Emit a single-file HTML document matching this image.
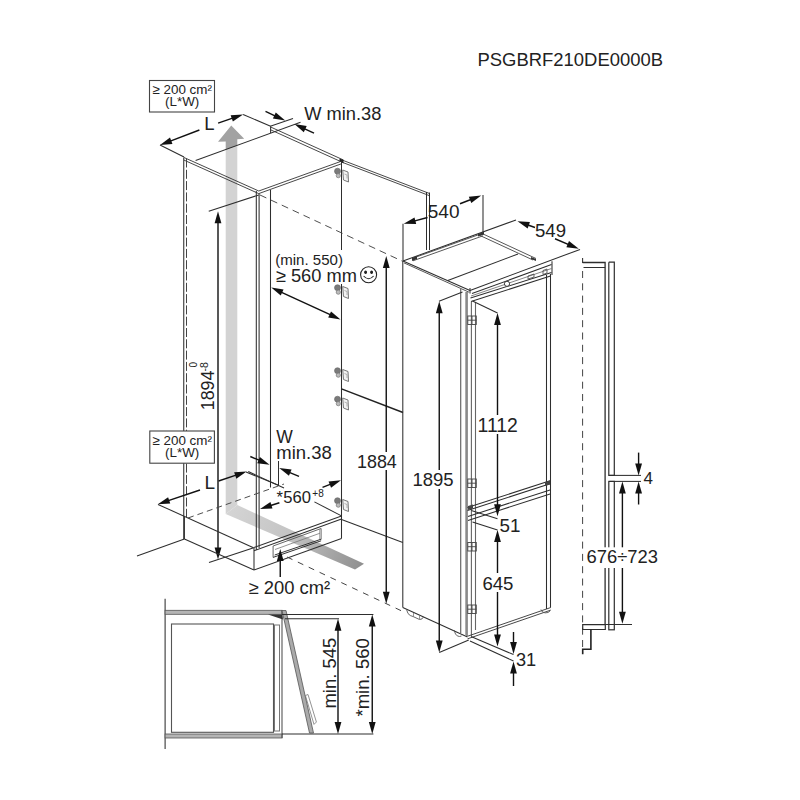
<!DOCTYPE html>
<html><head><meta charset="utf-8"><style>
html,body{margin:0;padding:0;background:#fff;}
svg{display:block;font-family:"Liberation Sans",sans-serif;}
</style></head><body>
<svg width="800" height="800" viewBox="0 0 800 800">
<rect width="800" height="800" fill="#fff"/>
<defs>
<linearGradient id="gband" gradientUnits="userSpaceOnUse" x1="230" y1="510" x2="362" y2="566">
<stop offset="0" stop-color="#d4d4d4"/><stop offset="0.45" stop-color="#c4c4c4"/><stop offset="1" stop-color="#8f8f8f"/></linearGradient>
<clipPath id="above"><path d="M0,0 H800 V100 L271,133 L196,161 L0,240 Z"/></clipPath>
<clipPath id="below"><path d="M0,240 L196,161 L271,133 L800,100 V800 H0 Z"/></clipPath>
</defs>
<path d="M225.7,514 L225.7,141.5 L218,141.8 L231.25,125.5 L244.2,138.8 L237.3,139.2 L237.3,505 Z" stroke="none" stroke-width="0" fill="#d3d3d3" clip-path="url(#below)"/>
<path d="M225.7,514 L225.7,141.5 L218,141.8 L231.25,125.5 L244.2,138.8 L237.3,139.2 L237.3,505 Z" stroke="none" stroke-width="0" fill="#a2a2a2" clip-path="url(#above)"/>
<path d="M225.7,514 L237.3,505 L364,563.75 L355,569.4 Z" stroke="none" stroke-width="0" fill="url(#gband)" />
<text x="477.5" y="66" font-size="18.45" text-anchor="start" fill="#222" >PSGBRF210DE0000B</text>
<rect x="149.5" y="80.5" width="65" height="31.5" fill="#fff" stroke="#444" stroke-width="1.1"/>
<text x="182.2" y="94" font-size="13.4" text-anchor="middle" fill="#222" >≥ 200 cm²</text>
<text x="182.2" y="106" font-size="13.4" text-anchor="middle" fill="#222" >(L*W)</text>
<line x1="243.1" y1="114.4" x2="270.6" y2="126.25" stroke="#2e2e2e" stroke-width="1.05" />
<line x1="160" y1="145" x2="184" y2="157" stroke="#2e2e2e" stroke-width="1.05" />
<line x1="195.6" y1="160.6" x2="300.5" y2="122.3" stroke="#2e2e2e" stroke-width="1.05" />
<line x1="270.6" y1="126.25" x2="270.6" y2="133.1" stroke="#2e2e2e" stroke-width="1.05" />
<text x="204.3" y="130.2" font-size="18.5" text-anchor="start" fill="#222" >L</text>
<line x1="199.4" y1="130" x2="168.97180351521945" y2="141.58433876324133" stroke="#111" stroke-width="1.4" />
<path d="M160.00,145.00 L170.01,137.55 L172.42,143.91 Z" fill="#111"/>
<line x1="218.1" y1="123.1" x2="234.033320125074" y2="117.55520459647424" stroke="#111" stroke-width="1.4" />
<path d="M243.10,114.40 L232.88,121.56 L230.65,115.13 Z" fill="#111"/>
<line x1="270.3" y1="126.25" x2="293" y2="118.4" stroke="#2e2e2e" stroke-width="1.05" />
<line x1="265.5" y1="111.4" x2="276.50177019972153" y2="116.5378825298192" stroke="#111" stroke-width="1.4" />
<path d="M285.20,120.60 L272.89,118.60 L275.77,112.44 Z" fill="#111"/>
<line x1="314" y1="133.2" x2="303.09027466310107" y2="128.07910851533316" stroke="#111" stroke-width="1.4" />
<path d="M294.40,124.00 L306.71,126.02 L303.82,132.18 Z" fill="#111"/>
<text x="304.2" y="120.1" font-size="18.3" text-anchor="start" fill="#222" >W min.38</text>
<line x1="184" y1="157.5" x2="258.75" y2="191" stroke="#333" stroke-width="0.9" />
<line x1="184" y1="160.1" x2="258.75" y2="193.6" stroke="#333" stroke-width="0.9" />
<line x1="270.6" y1="127" x2="343.5" y2="160" stroke="#333" stroke-width="0.9" />
<line x1="270.6" y1="129.8" x2="343.5" y2="162.8" stroke="#333" stroke-width="0.9" />
<line x1="341.5" y1="159.8" x2="429" y2="193.3" stroke="#333" stroke-width="0.9" />
<line x1="341.5" y1="162.0" x2="429" y2="195.5" stroke="#333" stroke-width="0.9" />
<path d="M339.5,158.5 l4,1.5 l0,3 l-4,-1.5 z" fill="#222"/>
<line x1="426.5" y1="192" x2="426.5" y2="250" stroke="#2e2e2e" stroke-width="1.05" />
<line x1="429.5" y1="192.5" x2="429.5" y2="250" stroke="#2e2e2e" stroke-width="1.05" />
<line x1="258.75" y1="191" x2="341.25" y2="161.25" stroke="#333" stroke-width="0.9" />
<line x1="258.75" y1="193.6" x2="341.25" y2="163.85" stroke="#333" stroke-width="0.9" />
<line x1="183.75" y1="157.5" x2="183.75" y2="539" stroke="#2e2e2e" stroke-width="1.05" />
<line x1="186.5" y1="158.5" x2="186.5" y2="517" stroke="#444" stroke-width="1.0" stroke-dasharray="9,2.3"/>
<line x1="256.3" y1="191" x2="256.3" y2="550" stroke="#2e2e2e" stroke-width="1.05" />
<line x1="259.1" y1="193.5" x2="259.1" y2="548" stroke="#2e2e2e" stroke-width="1.05" />
<line x1="270.5" y1="190" x2="270.5" y2="487.4" stroke="#2e2e2e" stroke-width="1.05" />
<line x1="341.5" y1="161.25" x2="341.5" y2="250" stroke="#2e2e2e" stroke-width="1.05" />
<line x1="341.5" y1="268" x2="341.5" y2="538.6" stroke="#2e2e2e" stroke-width="1.05" />
<line x1="260" y1="195" x2="402.5" y2="261.25" stroke="#444" stroke-width="0.95" stroke-dasharray="7,5"/>
<line x1="341.5" y1="388.9" x2="403" y2="412.5" stroke="#222" stroke-width="1.5" />
<g><circle cx="337.5" cy="171.2" r="3" fill="#7a7a7a" stroke="#666" stroke-width="0.6"/><circle cx="338.3" cy="175.7" r="2.1" fill="#bbb" stroke="#777" stroke-width="0.7"/><path d="M342.7,170.0 L348.0,172.0 L348.5,182.0 L343.5,180.0 Z" fill="#f2f2f2" stroke="#777" stroke-width="1"/><path d="M344.5,174.0 L347.0,175.0 L347.0,178.5" fill="none" stroke="#999" stroke-width="0.7"/></g>
<g><circle cx="337.5" cy="287.7" r="3" fill="#7a7a7a" stroke="#666" stroke-width="0.6"/><circle cx="338.3" cy="292.2" r="2.1" fill="#bbb" stroke="#777" stroke-width="0.7"/><path d="M342.7,286.5 L348.0,288.5 L348.5,298.5 L343.5,296.5 Z" fill="#f2f2f2" stroke="#777" stroke-width="1"/><path d="M344.5,290.5 L347.0,291.5 L347.0,295" fill="none" stroke="#999" stroke-width="0.7"/></g>
<g><circle cx="337.5" cy="370.7" r="3" fill="#7a7a7a" stroke="#666" stroke-width="0.6"/><circle cx="338.3" cy="375.2" r="2.1" fill="#bbb" stroke="#777" stroke-width="0.7"/><path d="M342.7,369.5 L348.0,371.5 L348.5,381.5 L343.5,379.5 Z" fill="#f2f2f2" stroke="#777" stroke-width="1"/><path d="M344.5,373.5 L347.0,374.5 L347.0,378" fill="none" stroke="#999" stroke-width="0.7"/></g>
<g><circle cx="337.5" cy="399.2" r="3" fill="#7a7a7a" stroke="#666" stroke-width="0.6"/><circle cx="338.3" cy="403.7" r="2.1" fill="#bbb" stroke="#777" stroke-width="0.7"/><path d="M342.7,398.0 L348.0,400.0 L348.5,410.0 L343.5,408.0 Z" fill="#f2f2f2" stroke="#777" stroke-width="1"/><path d="M344.5,402.0 L347.0,403.0 L347.0,406.5" fill="none" stroke="#999" stroke-width="0.7"/></g>
<g><circle cx="337.5" cy="500.7" r="3" fill="#7a7a7a" stroke="#666" stroke-width="0.6"/><circle cx="338.3" cy="505.2" r="2.1" fill="#bbb" stroke="#777" stroke-width="0.7"/><path d="M342.7,499.5 L348.0,501.5 L348.5,511.5 L343.5,509.5 Z" fill="#f2f2f2" stroke="#777" stroke-width="1"/><path d="M344.5,503.5 L347.0,504.5 L347.0,508" fill="none" stroke="#999" stroke-width="0.7"/></g>
<line x1="208.75" y1="211.25" x2="258.75" y2="195" stroke="#2e2e2e" stroke-width="1.05" />
<line x1="209" y1="562.6" x2="253" y2="548" stroke="#2e2e2e" stroke-width="1.05" />
<line x1="218.0" y1="220.85" x2="218.0" y2="549.9" stroke="#111" stroke-width="1.4" />
<path d="M218.00,559.50 L214.60,547.50 L221.40,547.50 Z" fill="#111"/>
<path d="M218.00,211.25 L221.40,223.25 L214.60,223.25 Z" fill="#111"/>
<text x="0" y="0" font-size="17.9" text-anchor="start" fill="#222" transform="translate(213.8,410.3) rotate(-90)">1894</text>
<text x="0" y="0" font-size="10.5" text-anchor="start" fill="#222" transform="translate(208.2,371.5) rotate(-90)">-8</text>
<text x="0" y="0" font-size="10" text-anchor="start" fill="#222" transform="translate(197,367.5) rotate(-90)">0</text>
<line x1="279.96456758576136" y1="291.52694819847454" x2="331.78543241423864" y2="315.47305180152546" stroke="#111" stroke-width="1.4" />
<path d="M340.50,319.50 L328.18,317.55 L331.03,311.38 Z" fill="#111"/>
<path d="M271.25,287.50 L283.57,289.45 L280.72,295.62 Z" fill="#111"/>
<rect x="274" y="254" width="69" height="30" fill="#fff"/>
<text x="275.2" y="265.3" font-size="15.05" text-anchor="start" fill="#222" >(min. 550)</text>
<text x="275.8" y="281.6" font-size="18.3" text-anchor="start" fill="#222" >≥ 560 mm</text>
<g stroke="#222" stroke-width="1.1" fill="none"><circle cx="368.6" cy="274.8" r="8"/><ellipse cx="365.6" cy="272.3" rx="0.9" ry="1.2" fill="#222"/><ellipse cx="371.6" cy="272.3" rx="0.9" ry="1.2" fill="#222"/><path d="M363.6,276 Q368.6,281.5 373.6,276"/></g>
<rect x="149.8" y="431" width="64.6" height="32.2" fill="#fff" stroke="#444" stroke-width="1.1"/>
<text x="182.2" y="444.6" font-size="13.4" text-anchor="middle" fill="#222" >≥ 200 cm²</text>
<text x="182.2" y="456.6" font-size="13.4" text-anchor="middle" fill="#222" >(L*W)</text>
<line x1="246" y1="472" x2="278.5" y2="485.3" stroke="#2e2e2e" stroke-width="1.05" />
<line x1="158" y1="504.4" x2="254" y2="548" stroke="#2e2e2e" stroke-width="1.05" />
<line x1="188" y1="518" x2="284" y2="484" stroke="#444" stroke-width="0.95" stroke-dasharray="6,4"/>
<text x="204.5" y="489.4" font-size="19" text-anchor="start" fill="#222" >L</text>
<line x1="200" y1="490" x2="166.89869855101392" y2="501.13835262027493" stroke="#111" stroke-width="1.4" />
<path d="M157.80,504.20 L168.09,497.15 L170.26,503.60 Z" fill="#111"/>
<line x1="218.6" y1="481" x2="237.49916181726044" y2="474.6552813899197" stroke="#111" stroke-width="1.4" />
<path d="M246.60,471.60 L236.31,478.64 L234.14,472.20 Z" fill="#111"/>
<text x="276.3" y="442.7" font-size="17.5" text-anchor="start" fill="#222" >W</text>
<text x="276.3" y="458.5" font-size="18.5" text-anchor="start" fill="#222" >min.38</text>
<line x1="278.5" y1="461" x2="278.5" y2="485.3" stroke="#2e2e2e" stroke-width="1.05" />
<line x1="248.25" y1="471.6" x2="284" y2="488" stroke="#2e2e2e" stroke-width="1.05" />
<line x1="250.3" y1="456.5" x2="260.7644112379423" y2="460.9460192824418" stroke="#111" stroke-width="1.4" />
<path d="M269.60,464.70 L257.23,463.14 L259.89,456.88 Z" fill="#111"/>
<line x1="299" y1="476.4" x2="288.05358040152566" y2="471.8113493602355" stroke="#111" stroke-width="1.4" />
<path d="M279.20,468.10 L291.58,469.60 L288.95,475.87 Z" fill="#111"/>
<text x="276.5" y="502.75" font-size="16.6" text-anchor="start" fill="#222" >*</text>
<text x="283.3" y="502.75" font-size="16.6" text-anchor="start" fill="#222" >560</text>
<text x="312.3" y="497" font-size="10" text-anchor="start" fill="#222" >+8</text>
<line x1="279.4" y1="502.75" x2="269.15117984303674" y2="505.9989816476971" stroke="#111" stroke-width="1.4" />
<path d="M260.00,508.90 L270.41,502.03 L272.47,508.51 Z" fill="#111"/>
<line x1="322.5" y1="487.4" x2="332.0536629911842" y2="483.68181764667423" stroke="#111" stroke-width="1.4" />
<path d="M341.00,480.20 L331.05,487.72 L328.58,481.38 Z" fill="#111"/>
<line x1="314.4" y1="501.9" x2="341.5" y2="515.9" stroke="#2e2e2e" stroke-width="1.05" />
<line x1="184.4" y1="517" x2="184.4" y2="539" stroke="#2e2e2e" stroke-width="1.05" />
<line x1="184.4" y1="539" x2="137" y2="556" stroke="#2e2e2e" stroke-width="1.05" />
<line x1="184.4" y1="539" x2="254" y2="570" stroke="#2e2e2e" stroke-width="1.05" />
<line x1="254" y1="548" x2="254" y2="570" stroke="#2e2e2e" stroke-width="1.05" />
<line x1="254" y1="547.5" x2="341.5" y2="515.9" stroke="#2e2e2e" stroke-width="1.05" />
<line x1="254" y1="550.7" x2="341.5" y2="519.1" stroke="#2e2e2e" stroke-width="1.05" />
<line x1="254" y1="570" x2="341.5" y2="538.6" stroke="#2e2e2e" stroke-width="1.05" />
<line x1="341.5" y1="519.4" x2="402.8" y2="542.5" stroke="#2e2e2e" stroke-width="1.05" />
<line x1="273.1" y1="546" x2="321.1" y2="528.5" stroke="#555" stroke-width="0.9" />
<line x1="273.1" y1="546" x2="273.1" y2="557.4" stroke="#555" stroke-width="0.9" />
<line x1="321.1" y1="528.5" x2="321.1" y2="539.5" stroke="#555" stroke-width="0.9" />
<line x1="319.6" y1="529.3" x2="319.6" y2="539.5" stroke="#888" stroke-width="0.7" />
<line x1="274.7" y1="555" x2="321.1" y2="539.2" stroke="#333" stroke-width="1.0" />
<line x1="273.1" y1="557.4" x2="321.1" y2="540.8" stroke="#333" stroke-width="1.0" />
<line x1="275" y1="549.5" x2="320" y2="533.2" stroke="#777" stroke-width="0.8" />
<line x1="287" y1="557" x2="405" y2="612.5" stroke="#444" stroke-width="1.0" stroke-dasharray="6,6"/>
<line x1="280.25" y1="577" x2="280.25" y2="558.7" stroke="#111" stroke-width="1.4" />
<path d="M280.25,549.10 L283.65,561.10 L276.85,561.10 Z" fill="#111"/>
<text x="248.5" y="593.75" font-size="18.4" text-anchor="start" fill="#222" >≥ 200 cm²</text>
<line x1="403" y1="261" x2="516" y2="220" stroke="#2e2e2e" stroke-width="1.05" />
<line x1="403" y1="261" x2="470" y2="290.5" stroke="#2e2e2e" stroke-width="1.05" />
<line x1="404" y1="262.9" x2="469" y2="292.2" stroke="#444" stroke-width="0.9" />
<line x1="470" y1="288" x2="470" y2="293.5" stroke="#2e2e2e" stroke-width="1.05" />
<line x1="470" y1="290.5" x2="580" y2="249.4" stroke="#2e2e2e" stroke-width="1.05" />
<line x1="472" y1="293.6" x2="551.5" y2="264.5" stroke="#2e2e2e" stroke-width="1.05" />
<line x1="447.8" y1="280.4" x2="518" y2="254" stroke="#2e2e2e" stroke-width="1.05" />
<line x1="412" y1="258.5" x2="482" y2="233.5" stroke="#444" stroke-width="0.9" />
<line x1="413" y1="260.8" x2="483" y2="235.8" stroke="#444" stroke-width="0.9" />
<line x1="482" y1="233.5" x2="536" y2="258.5" stroke="#444" stroke-width="0.9" />
<line x1="480" y1="235.5" x2="533" y2="260" stroke="#444" stroke-width="0.9" />
<path d="M412,258 l5,-2 l0,3 l-5,2 z M478,234 l6,-2 l0,2.5 l-6,2 z M531,257 l5,2 l0,2 l-5,-2 z" fill="#333"/>
<line x1="552" y1="261.2" x2="552" y2="275" stroke="#2e2e2e" stroke-width="1.05" />
<line x1="470.5" y1="298" x2="551.5" y2="272.5" stroke="#2e2e2e" stroke-width="1.05" />
<line x1="471" y1="301.5" x2="550.5" y2="276" stroke="#2e2e2e" stroke-width="1.05" />
<line x1="471" y1="296" x2="551.5" y2="268.5" stroke="#666" stroke-width="0.8" />
<circle cx="507" cy="283.8" r="2.6" fill="#fff" stroke="#333" stroke-width="1"/>
<path d="M528,276 l6,-2 l0,3 l-6,2 z M543,270.5 l4,-1.5 l0,4 l-4,1.5 z" fill="none" stroke="#444" stroke-width="0.8"/>
<line x1="403" y1="223.75" x2="403" y2="261" stroke="#2e2e2e" stroke-width="1.05" />
<line x1="483" y1="195" x2="483" y2="233.5" stroke="#2e2e2e" stroke-width="1.05" />
<line x1="427.5" y1="217.5" x2="413.0339155577214" y2="221.30686432691542" stroke="#111" stroke-width="1.4" />
<path d="M403.75,223.75 L414.49,217.41 L416.22,223.98 Z" fill="#111"/>
<line x1="460" y1="203.75" x2="472.3007807391438" y2="198.9744027718618" stroke="#111" stroke-width="1.4" />
<path d="M481.25,195.50 L471.29,203.01 L468.83,196.67 Z" fill="#111"/>
<text x="427.8" y="217.8" font-size="19" text-anchor="start" fill="#222" >540</text>
<line x1="535" y1="227.5" x2="526.5407223513105" y2="224.4788294111823" stroke="#111" stroke-width="1.4" />
<path d="M517.50,221.25 L529.94,222.08 L527.66,228.49 Z" fill="#111"/>
<line x1="555" y1="238.75" x2="569.9023003986746" y2="245.02465279944192" stroke="#111" stroke-width="1.4" />
<path d="M578.75,248.75 L566.37,247.23 L569.01,240.96 Z" fill="#111"/>
<text x="535" y="236.8" font-size="18.6" text-anchor="start" fill="#222" >549</text>
<line x1="402.8" y1="261" x2="402.8" y2="607.5" stroke="#2e2e2e" stroke-width="1.05" />
<line x1="402.8" y1="607.5" x2="467.5" y2="637" stroke="#2e2e2e" stroke-width="1.05" />
<line x1="460.7" y1="289" x2="460.7" y2="633" stroke="#666" stroke-width="1.2" />
<line x1="466.6" y1="292" x2="466.6" y2="636" stroke="#8a8a8a" stroke-width="2.6" />
<line x1="471.4" y1="302" x2="471.4" y2="636" stroke="#666" stroke-width="1.1" />
<line x1="475.5" y1="302" x2="475.5" y2="630" stroke="#666" stroke-width="1.1" />
<line x1="546.5" y1="275" x2="546.5" y2="609" stroke="#2e2e2e" stroke-width="1.05" />
<line x1="550.5" y1="274" x2="550.5" y2="607.5" stroke="#2e2e2e" stroke-width="1.05" />
<line x1="467.5" y1="636.25" x2="550.8" y2="607.5" stroke="#333" stroke-width="0.9" />
<line x1="467.5" y1="638.85" x2="550.8" y2="610.1" stroke="#333" stroke-width="0.9" />
<path d="M406.5,609.5 L408,613.5 Q410,616 413,616.5 L419.5,619.5 Q422.5,619.5 423.5,617 L423.5,616.8" fill="none" stroke="#555" stroke-width="0.9"/>
<path d="M413.5,613 l0,3.5 M419.5,616 l0,3" stroke="#777" stroke-width="0.8"/>
<path d="M454,630 L455.5,634 Q457,636.5 459.5,636.5 L461.5,636" fill="none" stroke="#555" stroke-width="0.9"/>
<path d="M541,609.5 L542.5,612 Q545,613.5 548,612.5 L550,611" fill="none" stroke="#555" stroke-width="0.9"/>
<line x1="467.5" y1="507.5" x2="550.8" y2="480.6" stroke="#2e2e2e" stroke-width="1.05" />
<line x1="467.5" y1="510.5" x2="550.8" y2="483.6" stroke="#2e2e2e" stroke-width="1.05" />
<line x1="468" y1="516.5" x2="550.8" y2="489.7" stroke="#2e2e2e" stroke-width="1.05" />
<line x1="468" y1="520.5" x2="550.8" y2="493.7" stroke="#2e2e2e" stroke-width="1.05" />
<path d="M468,506 l5,-1.5 l0,4 l-5,1.5 z M545,482 l5,-1.5 l0,4 l-5,1.5 z" fill="#444"/>
<g fill="none" stroke="#444" stroke-width="0.9"><rect x="467.8" y="316" width="8.5" height="8.5"/><path d="M472.0,316 v8.5 M467.8,320.2 h8.5"/></g>
<g fill="none" stroke="#444" stroke-width="0.9"><rect x="467.8" y="479" width="8.5" height="8.5"/><path d="M472.0,479 v8.5 M467.8,483.2 h8.5"/></g>
<g fill="none" stroke="#444" stroke-width="0.9"><rect x="467.8" y="542.5" width="8.5" height="8.5"/><path d="M472.0,542.5 v8.5 M467.8,546.7 h8.5"/></g>
<g fill="none" stroke="#444" stroke-width="0.9"><rect x="467.8" y="605" width="8.5" height="8.5"/><path d="M472.0,605 v8.5 M467.8,609.2 h8.5"/></g>
<line x1="386.25" y1="265.6" x2="386.25" y2="594.15" stroke="#111" stroke-width="1.4" />
<path d="M386.25,603.75 L382.85,591.75 L389.65,591.75 Z" fill="#111"/>
<path d="M386.25,256.00 L389.65,268.00 L382.85,268.00 Z" fill="#111"/>
<rect x="356" y="452" width="42" height="18" fill="#fff"/>
<text x="357" y="467.8" font-size="17.9" text-anchor="start" fill="#222" >1884</text>
<line x1="439" y1="301.2" x2="462.5" y2="292" stroke="#2e2e2e" stroke-width="1.05" />
<line x1="439.25" y1="652.5" x2="468.75" y2="640" stroke="#2e2e2e" stroke-width="1.05" />
<line x1="439.25" y1="310.85" x2="439.25" y2="642.9" stroke="#111" stroke-width="1.4" />
<path d="M439.25,652.50 L435.85,640.50 L442.65,640.50 Z" fill="#111"/>
<path d="M439.25,301.25 L442.65,313.25 L435.85,313.25 Z" fill="#111"/>
<rect x="411" y="470" width="44" height="19" fill="#fff"/>
<text x="412.5" y="485.6" font-size="18.5" text-anchor="start" fill="#222" >1895</text>
<line x1="472.5" y1="301" x2="497.5" y2="313" stroke="#2e2e2e" stroke-width="1.05" />
<line x1="497.5" y1="322.6" x2="497.5" y2="506.65" stroke="#111" stroke-width="1.4" />
<path d="M497.50,516.25 L494.10,504.25 L500.90,504.25 Z" fill="#111"/>
<path d="M497.50,313.00 L500.90,325.00 L494.10,325.00 Z" fill="#111"/>
<rect x="478.5" y="415" width="40" height="19" fill="#fff"/>
<text x="477.6" y="432.2" font-size="19.4" text-anchor="start" fill="#222" >1112</text>
<line x1="471.25" y1="510.6" x2="497.5" y2="518.75" stroke="#2e2e2e" stroke-width="1.05" />
<line x1="472.5" y1="521.9" x2="497.5" y2="530" stroke="#2e2e2e" stroke-width="1.05" />
<text x="499.5" y="532" font-size="18.8" text-anchor="start" fill="#222" >51</text>
<line x1="497.5" y1="539.6" x2="497.5" y2="636.9" stroke="#111" stroke-width="1.4" />
<path d="M497.50,646.50 L494.10,634.50 L500.90,634.50 Z" fill="#111"/>
<path d="M497.50,530.00 L500.90,542.00 L494.10,542.00 Z" fill="#111"/>
<rect x="481" y="573" width="34" height="19" fill="#fff"/>
<text x="482.4" y="590" font-size="18.6" text-anchor="start" fill="#222" >645</text>
<line x1="471" y1="636.5" x2="513.5" y2="654.6" stroke="#2e2e2e" stroke-width="1.05" />
<line x1="470" y1="641" x2="513.5" y2="661" stroke="#2e2e2e" stroke-width="1.05" />
<line x1="513.5" y1="632" x2="513.5" y2="644.4" stroke="#111" stroke-width="1.4" />
<path d="M513.50,654.00 L510.10,642.00 L516.90,642.00 Z" fill="#111"/>
<line x1="513.5" y1="686" x2="513.5" y2="671.1" stroke="#111" stroke-width="1.4" />
<path d="M513.50,661.50 L516.90,673.50 L510.10,673.50 Z" fill="#111"/>
<text x="516" y="665.6" font-size="18.2" text-anchor="start" fill="#222" >31</text>
<line x1="582.6" y1="271" x2="582.6" y2="653" stroke="#444" stroke-width="1.0" stroke-dasharray="7,5.3"/>
<line x1="582.6" y1="258" x2="582.6" y2="263" stroke="#2e2e2e" stroke-width="1.05" />
<path d="M582.6,262.5 L605.1,262.5 L605.1,624.6" stroke="#2e2e2e" stroke-width="1.3" fill="none" />
<line x1="583.5" y1="267.5" x2="605.1" y2="267.5" stroke="#2e2e2e" stroke-width="1.05" />
<path d="M608.8,262.2 L614.3,262.2 L614.3,475.4 L608.8,475.4 L608.8,262.2" stroke="#2e2e2e" stroke-width="1.2" fill="none" />
<rect x="608.8" y="481.4" width="5.5" height="148.4" fill="none" stroke="#2e2e2e" stroke-width="1.2"/>
<line x1="609.5" y1="475.4" x2="641" y2="475.4" stroke="#2e2e2e" stroke-width="1.05" />
<line x1="609.5" y1="481.4" x2="641" y2="481.4" stroke="#2e2e2e" stroke-width="1.05" />
<line x1="638.6" y1="452.6" x2="638.6" y2="465.79999999999995" stroke="#111" stroke-width="1.4" />
<path d="M638.60,475.40 L635.20,463.40 L642.00,463.40 Z" fill="#111"/>
<line x1="638.6" y1="504.5" x2="638.6" y2="491.0" stroke="#111" stroke-width="1.4" />
<path d="M638.60,481.40 L642.00,493.40 L635.20,493.40 Z" fill="#111"/>
<text x="643.6" y="483.5" font-size="17" text-anchor="start" fill="#222" >4</text>
<line x1="605.5" y1="624.5" x2="632" y2="624.5" stroke="#2e2e2e" stroke-width="1.05" />
<path d="M582.7,624.6 L605.3,624.6 L605.3,629.5 L582.7,629.5 Z" stroke="#2e2e2e" stroke-width="1.2" fill="none" />
<path d="M590.9,629.5 L590.9,649.2 L582.7,649.2 L582.7,654.3" stroke="#222" stroke-width="1.6" fill="none" />
<line x1="622.4" y1="491.0" x2="622.4" y2="614.1999999999999" stroke="#111" stroke-width="1.4" />
<path d="M622.40,623.80 L619.00,611.80 L625.80,611.80 Z" fill="#111"/>
<path d="M622.40,481.40 L625.80,493.40 L619.00,493.40 Z" fill="#111"/>
<rect x="586" y="547.3" width="72" height="20.7" fill="#fff"/>
<text x="586.6" y="563.2" font-size="18.4" text-anchor="start" fill="#222" >676÷723</text>
<line x1="165.1" y1="598.7" x2="165.1" y2="749" stroke="#2e2e2e" stroke-width="1.05" />
<rect x="165.1" y="610.3" width="117" height="4" fill="#b5b5b5" stroke="#555" stroke-width="0.8"/>
<rect x="165.1" y="734" width="117" height="4" fill="#b5b5b5" stroke="#555" stroke-width="0.8"/>
<line x1="282" y1="610" x2="282" y2="738" stroke="#555" stroke-width="1.1" />
<rect x="171.5" y="624" width="102" height="108.3" fill="none" stroke="#555" stroke-width="1.1"/>
<rect x="274.5" y="625" width="5" height="106" fill="none" stroke="#777" stroke-width="1"/>
<path d="M282,610.5 L286,610.5 L313.5,733 L309.5,733 Z" stroke="#555" stroke-width="0.8" fill="#aaa" />
<path d="M305.4,695.5 L308,694.5 L316.4,722 L314,724.4 Z" stroke="#777" stroke-width="0.8" fill="none" />
<line x1="282" y1="614.5" x2="373.4" y2="614.5" stroke="#2e2e2e" stroke-width="1.05" />
<line x1="285" y1="618.8" x2="339" y2="618.8" stroke="#2e2e2e" stroke-width="1.05" />
<path d="M268,614.5 L282,614.5 L283,619.5 Z" fill="#333"/>
<line x1="282" y1="734" x2="373.4" y2="734" stroke="#2e2e2e" stroke-width="1.05" />
<line x1="338.0" y1="628.4" x2="338.0" y2="724.4" stroke="#111" stroke-width="1.4" />
<path d="M338.00,734.00 L334.60,722.00 L341.40,722.00 Z" fill="#111"/>
<path d="M338.00,618.80 L341.40,630.80 L334.60,630.80 Z" fill="#111"/>
<line x1="372.25" y1="624.1" x2="372.25" y2="724.4" stroke="#111" stroke-width="1.4" />
<path d="M372.25,734.00 L368.85,722.00 L375.65,722.00 Z" fill="#111"/>
<path d="M372.25,614.50 L375.65,626.50 L368.85,626.50 Z" fill="#111"/>
<text x="0" y="0" font-size="18.5" text-anchor="start" fill="#222" transform="translate(336.3,708.6) rotate(-90)">min. 545</text>
<text x="0" y="0" font-size="18.6" text-anchor="start" fill="#222" transform="translate(369,716.6) rotate(-90)">*min. 560</text>
</svg></body></html>
